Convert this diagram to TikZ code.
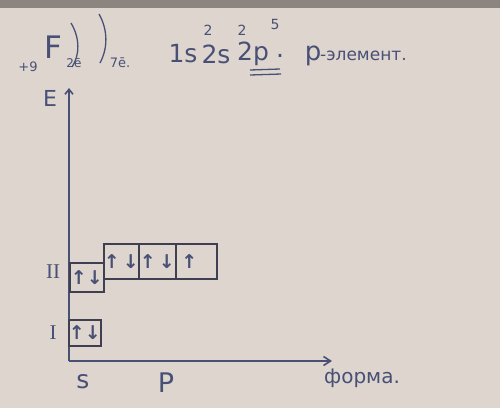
\documentclass[tikz,border=0pt]{standalone}
\usepackage{fontspec}
\setmainfont{DejaVu Sans}
\newfontfamily\serifr{Liberation Serif}
\usetikzlibrary{arrows.meta}
\definecolor{paper}{RGB}{221,213,206}
\definecolor{band}{RGB}{140,132,126}
\definecolor{ink}{RGB}{72,80,118}
\definecolor{pen}{RGB}{62,64,82}
\begin{document}
\begin{tikzpicture}[x=1pt,y=-1pt,
  every node/.style={text=ink, inner sep=0pt},
  cell/.style={draw=pen, line width=1.6pt, anchor=north west, minimum height=#1},
  spin/.style={font=\bfseries\fontsize{19}{19}\selectfont},
  axis/.style={draw=ink, line width=1.6pt},
  hand/.style={font=\fontsize{#1}{#1}\selectfont}]
\fill[paper] (0,0) rectangle (500,408);
\fill[band] (0,0) rectangle (500,8);
\useasboundingbox (0,0) rectangle (500,408);

% axes
\coordinate (O) at (69,361);
\coordinate (Yt) at (69,88);
\coordinate (Xt) at (332,361);
\draw[axis,-{Straight Barb[length=5pt,width=8pt]}] (O) -- (Yt);
\draw[axis,-{Straight Barb[length=7pt,width=9pt]}] (O) -- (Xt);
\node[hand=22] (E) at (50,98) {E};

% cells
\node[cell=26pt, minimum width=32pt, spin] (c1s) at (68,319) {↑↓};
\node[cell=29pt, minimum width=34pt, spin] (c2s) at (69,262) {↑↓};
\node[cell=35pt, minimum width=35pt, spin] (p1) at (103,243) {↑\,↓};
\node[cell=35pt, minimum width=37pt, spin] (p2) at (138,243) {↑\,↓};
\node[cell=35pt, minimum width=41pt, spin] (p3) at (175,243) {\hspace*{-14pt}↑};

\node[hand=21] (lII) at (53,272) {\serifr II};
\node[hand=21] (lI) at (53,333) {\serifr I};

\node[hand=25] (ls) at (83,382) {s};
\node[hand=27] (lP) at (166,383) {P};
\node[hand=20, anchor=west] (forma) at (324,378) {форма.};

% top line
\node[hand=13] (z) at (28,67) {+9};
\node[hand=31] (F) at (53,47) {F};
\draw[ink, line width=1.3pt] (71,23) .. controls (80,38) and (80,55) .. (72,67);
\draw[ink, line width=1.3pt] (99,14) .. controls (108,30) and (108,48) .. (100,63);
\node[hand=12] (e2) at (74,63) {2ē};
\node[hand=13] (e7) at (120,63) {7ē.};

\node[hand=25] (s1) at (183,54) {1s};
\node[hand=25] (s2) at (216,54) {2s};
\node[hand=25] (p2x) at (253,54) {2p};
\node[hand=25] (dot) at (280,56) {.};
\node[hand=14] (sup1) at (208,30) {2};
\node[hand=14] (sup2) at (242,30) {2};
\node[hand=14] (sup3) at (275,24) {5};
\draw[ink, line width=1.3pt] (250,70) -- (280,69);
\draw[ink, line width=1.3pt] (250,75) -- (281,74);

\node[hand=26] (pr) at (313,56) {р};
\node[hand=17, anchor=west] (elem) at (320,56) {-элемент.};
\end{tikzpicture}
\end{document}
